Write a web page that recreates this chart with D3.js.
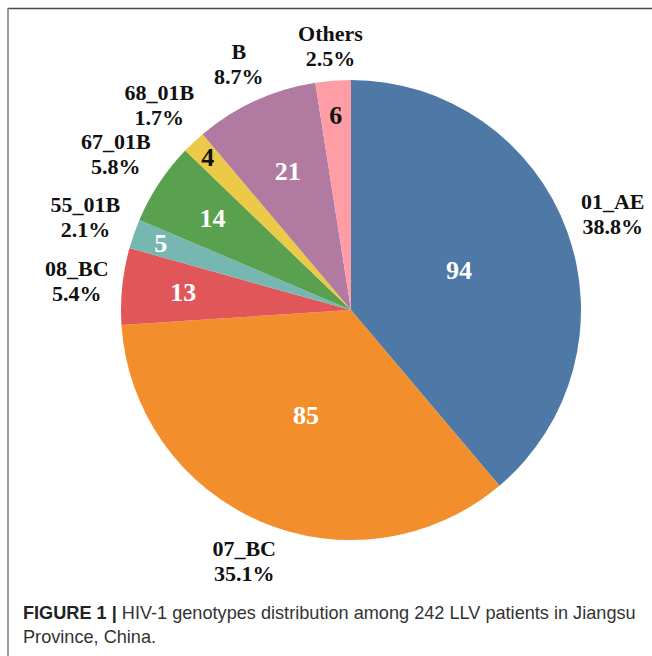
<!DOCTYPE html>
<html>
<head>
<meta charset="utf-8">
<script src="https://cdn.jsdelivr.net/npm/d3@7"></script>
<style>
  html, body { margin: 0; padding: 0; background: #fff; }
  svg { display: block; }
</style>
</head>
<body>
<div id="chart"></div>
<script>
const genotypes = ['01_AE', '07_BC', '08_BC', '55_01B', '67_01B', '68_01B', 'B', 'Others'];
const counts = [94, 85, 13, 5, 14, 4, 21, 6];
const percents = ['38.8%', '35.1%', '5.4%', '2.1%', '5.8%', '1.7%', '8.7%', '2.5%'];
const palette = ['#4e79a7', '#f28e2b', '#e15759', '#76b7b2', '#59a14f', '#edc948', '#b07aa1', '#ff9da7'];
const captionBold = 'FIGURE 1 |';
const captionLines = ['HIV-1 genotypes distribution among 242 LLV patients in Jiangsu', 'Province, China.'];

const W = 652, H = 656;
const cx = 351, cy = 310, radius = 230;
const serif = '"Liberation Serif", "Times New Roman", serif';

const svg = d3.select('#chart')
  .append('svg')
  .attr('width', W)
  .attr('height', H);

// frame: top rule and left rule
svg.append('line')
  .attr('x1', 8).attr('x2', W).attr('y1', 8.5).attr('y2', 8.5)
  .attr('stroke', '#4a4a4a').attr('stroke-width', 1.5);
svg.append('line')
  .attr('x1', 8).attr('x2', 8).attr('y1', 8).attr('y2', H)
  .attr('stroke', '#7a7a7a').attr('stroke-width', 1.5);

const data = genotypes.map((g, i) => ({ name: g, count: counts[i], pct: percents[i], color: palette[i] }));

const pie = d3.pie().sort(null).value(d => d.count);
const arcs = pie(data);
const arc = d3.arc().innerRadius(0).outerRadius(radius);

const g = svg.append('g').attr('transform', `translate(${cx}, ${cy})`);

g.selectAll('path.slice')
  .data(arcs)
  .enter()
  .append('path')
    .attr('class', 'slice')
    .attr('d', arc)
    .attr('fill', d => d.data.color);

// inside counts: thin slices get their label pushed toward the rim
const innerFrac = v => Math.max(0.5, 1.119 - 0.1505 * Math.log(v));
g.selectAll('text.count')
  .data(arcs)
  .enter()
  .append('text')
    .attr('class', 'count')
    .attr('transform', d => {
      const r = radius * innerFrac(d.data.count);
      const c = d3.arc().innerRadius(r).outerRadius(r).centroid(d);
      return `translate(${c[0]}, ${c[1]})`;
    })
    .attr('text-anchor', 'middle')
    .attr('dominant-baseline', 'central')
    .attr('font-family', serif)
    .attr('font-weight', 'bold')
    .attr('font-size', 26)
    .attr('fill', d => d3.lab(d.data.color).l > 73 ? '#111' : '#fff')
    .text(d => d.data.count);

// outside name / percent labels
const lineGap = 25, fontSize = 22, capH = 0.66 * fontSize;
const outer = g.selectAll('g.outer')
  .data(arcs)
  .enter()
  .append('g')
    .attr('class', 'outer');

outer.each(function (d) {
  const sel = d3.select(this);
  const t1 = sel.append('text')
    .attr('text-anchor', 'middle')
    .attr('font-family', serif)
    .attr('font-weight', 'bold')
    .attr('font-size', fontSize)
    .attr('fill', '#111')
    .attr('y', -lineGap / 2 + capH / 2)
    .text(d.data.name);
  const t2 = sel.append('text')
    .attr('text-anchor', 'middle')
    .attr('font-family', serif)
    .attr('font-weight', 'bold')
    .attr('font-size', fontSize)
    .attr('fill', '#111')
    .attr('y', lineGap / 2 + capH / 2)
    .text(d.data.pct);

  const w = Math.max(t1.node().getComputedTextLength(), t2.node().getComputedTextLength());
  const h = lineGap + capH;
  const a = (d.startAngle + d.endAngle) / 2;
  const s = Math.sin(a), c = Math.cos(a);
  const dist = 242 + Math.abs(s) * w / 2 + Math.abs(c) * h / 2;
  sel.attr('transform', `translate(${s * dist}, ${-c * dist})`);
});

// caption
const cap = svg.append('g').attr('class', 'caption');
const capText = cap.append('text')
  .attr('x', 0)
  .attr('y', 619)
  .attr('font-family', '"Liberation Sans", Arial, sans-serif')
  .attr('font-size', 18)
  .attr('fill', '#333');
capText.append('tspan')
  .attr('font-weight', 'bold')
  .attr('fill', '#222')
  .text(captionBold + ' ');
capText.append('tspan').text(captionLines[0]);
cap.append('text')
  .attr('x', 0)
  .attr('y', 643)
  .attr('font-family', '"Liberation Sans", Arial, sans-serif')
  .attr('font-size', 18)
  .attr('fill', '#333')
  .text(captionLines[1]);

const natural = capText.node().getComputedTextLength();
const k = (636 - 23) / natural;
cap.attr('transform', `translate(23, 0) scale(${k}, 1)`);
</script>
</body>
</html>
